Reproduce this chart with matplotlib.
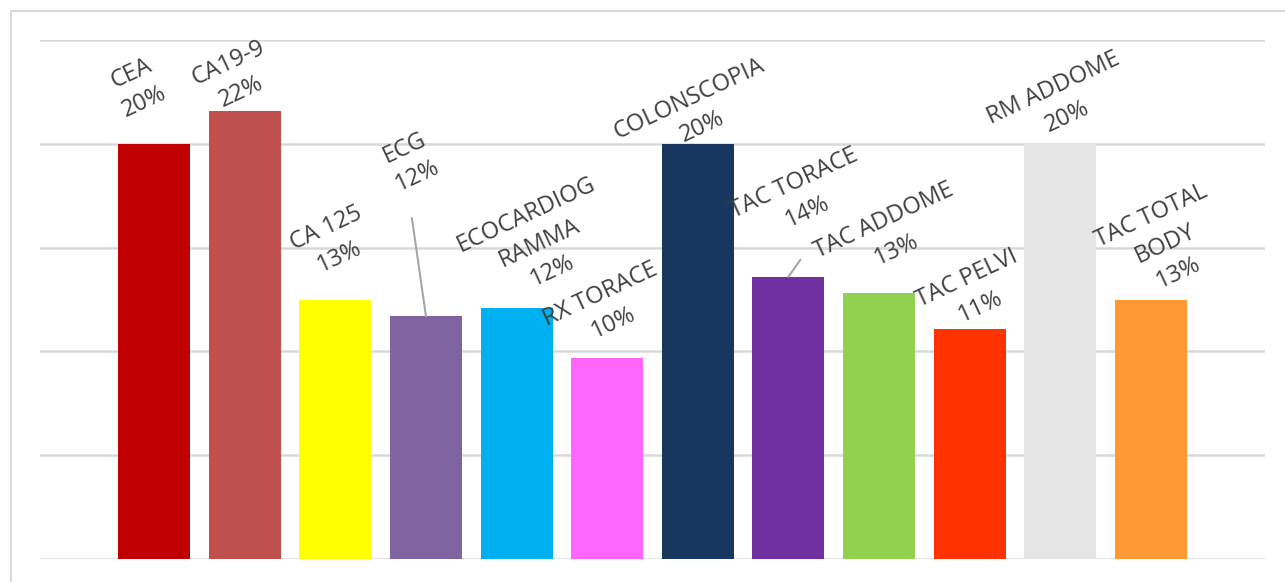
import math
import matplotlib
matplotlib.use("Agg")
import matplotlib.pyplot as plt
from matplotlib.patches import Rectangle

# Share of patients per examination (%)
exams = ["CEA", "CA19-9", "CA 125", "ECG", "ECOCARDIOG\nRAMMA", "RX TORACE",
         "COLONSCOPIA", "TAC TORACE", "TAC ADDOME", "TAC PELVI", "RM ADDOME",
         "TAC TOTAL\nBODY"]
shares = [20.0, 21.6, 12.5, 11.7, 12.1, 9.7, 20.0, 13.6, 12.8, 11.1, 20.0, 12.5]
bar_colors = ["#C00000", "#C0504D", "#FFFF00", "#8064A2", "#00B0F0", "#FF66FF",
              "#17375E", "#7030A0", "#92D050", "#FF3300", "#E6E6E6", "#FF9933"]
y_ticks = [0, 5, 10, 15, 20, 25]

# Label placement relative to the bar top (pixels: right, up)
label_offsets = [(-16, 56), (-10, 33), (-3, 57), (-15, 154), (23, 65), (0, 49),
                 (-2, 31), (12, 79), (11, 58), (4, 36), (0, 41), (14, 55)]
# Leader lines: bar index -> end point offset (pixels)
leaders = {3: (-14, 98), 7: (12, 17)}

W, H = 1285, 582
fig = plt.figure(figsize=(W / 100, H / 100), dpi=100)
fig.patch.set_facecolor("white")

# outer chart frame
fig.patches.append(Rectangle((11 / W, -0.05), 1.2, (H - 11) / H + 0.05,
                             transform=fig.transFigure, fill=False,
                             edgecolor="#d9d9d9", linewidth=1.5))

ax = fig.add_axes([40 / W, (H - 559) / H, (1265 - 40) / W, (559 - 40) / H])
x = list(range(len(exams)))
ax.bar(x, shares, width=0.795, color=bar_colors, zorder=3)

pad = 1.258
ax.set_xlim(-pad, len(exams) - 1 + pad)
ax.set_ylim(y_ticks[0], y_ticks[-1])
ax.set_yticks(y_ticks)
ax.yaxis.grid(True, color="#d9d9d9", linewidth=1.8, zorder=0)
ax.set_axisbelow(True)
ax.tick_params(left=False, bottom=False, labelleft=False, labelbottom=False)
for s in ax.spines.values():
    s.set_visible(False)

font = ["Open Sans", "DejaVu Sans"]
for i, (name, v) in enumerate(zip(exams, shares)):
    pct = int(math.floor(v + 0.5))
    dx, dy = label_offsets[i]
    ax.annotate(f"{name}\n{pct}%", xy=(i, v), xytext=(dx, dy),
                textcoords="offset pixels", ha="center", va="center",
                multialignment="center", rotation=25, rotation_mode="anchor",
                fontsize=17, color="#404040", family=font, linespacing=1.4,
                zorder=5)
    if i in leaders:
        lx, ly = leaders[i]
        ax.annotate("", xy=(i, v), xytext=(lx, ly), textcoords="offset pixels",
                    arrowprops=dict(arrowstyle="-", color="#a6a6a6", lw=1.5,
                                    shrinkA=0, shrinkB=0), zorder=4)

fig.savefig("out.png", dpi=100)
